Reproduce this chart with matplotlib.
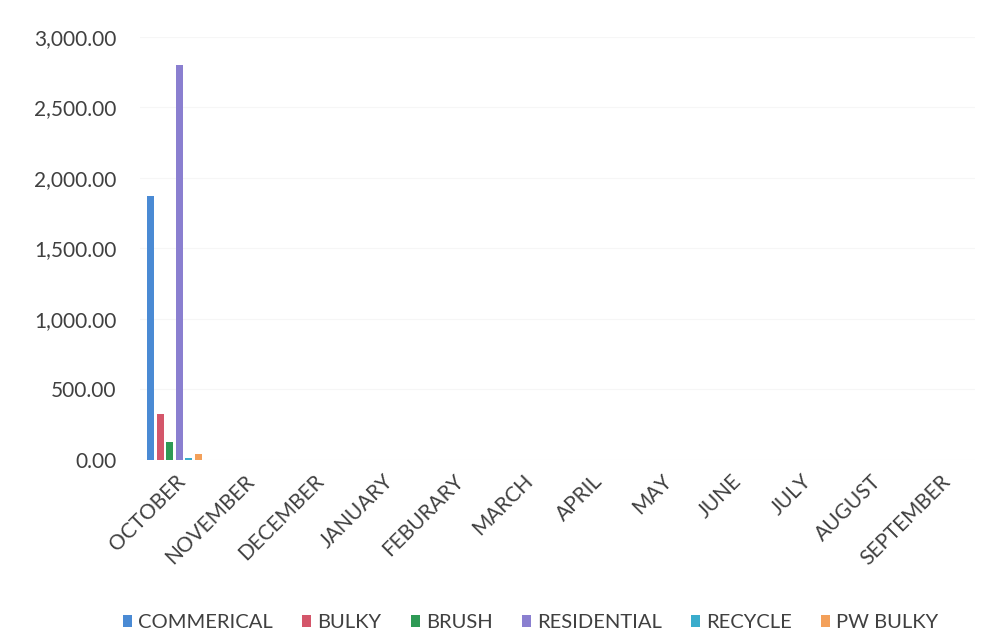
import matplotlib.pyplot as plt
import numpy as np
from matplotlib.ticker import FuncFormatter

plt.rcParams['font.family'] = ['Lato', 'DejaVu Sans']

months = ["OCTOBER", "NOVEMBER", "DECEMBER", "JANUARY", "FEBURARY", "MARCH",
          "APRIL", "MAY", "JUNE", "JULY", "AUGUST", "SEPTEMBER"]
series = ["COMMERICAL", "BULKY", "BRUSH", "RESIDENTIAL", "RECYCLE", "PW BULKY"]
colors = ["#4a8ad4", "#d4566a", "#2e9a55", "#8a7fd0", "#3aaccc", "#f3a05a"]

# only October has been reported so far
commercial = [1872] + [0] * 11
bulky = [326] + [0] * 11
brush = [128] + [0] * 11
residential = [2801] + [0] * 11
recycle = [10] + [0] * 11
pw_bulky = [40] + [0] * 11
values = [commercial, bulky, brush, residential, recycle, pw_bulky]

fig = plt.figure(figsize=(9.92, 6.44), dpi=100)
ax = fig.add_axes([0.141, 0.286, 0.842, 0.657])

x = np.arange(len(months))
step = 0.137
width = 0.1
for i, (name, vals) in enumerate(zip(series, values)):
    offs = (i - 2.5) * step
    ax.bar(x + offs, vals, width=width, color=colors[i], label=name, zorder=3)

ax.set_xlim(-0.5, len(months) - 0.5)
ax.set_ylim(0, 3000)
ax.set_yticks(np.arange(0, 3001, 500))
ax.yaxis.set_major_formatter(FuncFormatter(lambda v, p: f"{v:,.2f}"))
ax.grid(axis='y', color='#f6f6f6', linewidth=0.8, zorder=0)

ax.set_xticks(x)
ax.set_xticklabels(months, rotation=45, ha='right', rotation_mode='anchor')
ax.tick_params(axis='both', length=0, labelsize=15, colors='#404040', pad=8)
ax.tick_params(axis='y', pad=17)
for s in ax.spines.values():
    s.set_visible(False)

fig.legend(loc='lower center', bbox_to_anchor=(0.535, -0.008), ncol=6, frameon=False,
           fontsize=14.5, handlelength=0.45, handleheight=0.6, handletextpad=0.3,
           columnspacing=1.45, labelcolor='#404040')

fig.savefig("out.png", dpi=100)
